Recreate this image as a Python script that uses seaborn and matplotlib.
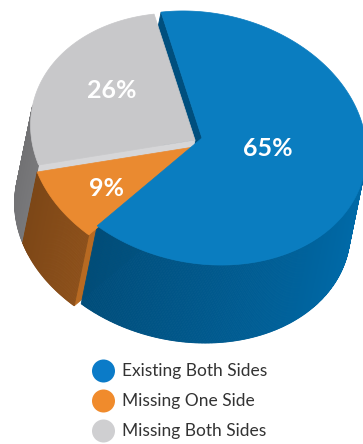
import numpy as np
import matplotlib
matplotlib.use("Agg")
import matplotlib.pyplot as plt
from matplotlib.patches import Polygon, Circle
import seaborn as sns

# ---- data -------------------------------------------------------------
labels = ["Existing Both Sides", "Missing One Side", "Missing Both Sides"]
shares = [65, 9, 26]
value_labels = ["65%", "9%", "26%"]

# ---- style ------------------------------------------------------------
sns.set_theme(style="white")
plt.rcParams["font.family"] = ["Lato", "DejaVu Sans"]

top_colors = sns.color_palette(["#0a7dc0", "#ea8a30", "#c8c8ca"])
side_colors = sns.color_palette(["#005c92", "#a9601f", "#a4a4a7"])
cut_colors = sns.color_palette(["#004f7e", "#b86a22", "#d6d6d8"])
legend_colors = sns.color_palette(["#0b7bc8", "#f08b2c", "#cfcfd1"])

W, H = 363, 444
fig = plt.figure(figsize=(W / 100, H / 100), dpi=100)
ax = fig.add_axes([0, 0, 1, 1])
ax.set_xlim(0, W)
ax.set_ylim(H, 0)
ax.axis("off")

# ---- 3-D pie geometry (pixel space, oblique projection) ----------------
center = np.array([195.0, 140.0])
ra, rb = 166.0, 125.0
tilt = np.deg2rad(12)
u = np.array([np.cos(tilt), np.sin(tilt)])
v = np.array([np.sin(tilt), -np.cos(tilt)])
depth = np.array([-16.0, 78.0])
start_angle = 113.5
offsets = [np.array([7.0, -2.0]), np.array([0.0, 0.0]), np.array([0.0, 0.0])]
sink = [0.0, 0.09, 0.0]          # how far each top sits below the full height
label_pos = [(268, 148), (106, 188), (112, 91)]


def rim(theta_deg, c):
    t = np.deg2rad(np.atleast_1d(theta_deg))
    return c + ra * np.cos(t)[:, None] * u + rb * np.sin(t)[:, None] * v


def normal(theta_deg):
    t = np.deg2rad(theta_deg)
    n = np.cos(t) / ra * u + np.sin(t) / rb * v
    return n / np.linalg.norm(n)


def shade(color, f):
    return tuple(np.clip(np.array(color) * f, 0, 1))


sweep = np.array(shares) / np.sum(shares) * 360.0
ends = start_angle - np.cumsum(sweep)
starts = ends + sweep

slices = []
for i in range(len(shares)):
    top_c = center + offsets[i] + sink[i] * depth
    wall = depth * (1 - sink[i])
    slices.append((starts[i], ends[i], top_c, wall))


def draw_cuts(i):
    th0, th1, c, wall = slices[i]
    for th, step in ((th0, -1.0), (th1, 1.0)):
        p = rim(th, c)[0]
        t = p - c
        m = rim(th + step, c)[0] - p
        nperp = np.array([t[1], -t[0]])
        if np.dot(nperp, m) > 0:
            nperp = -nperp
        if np.dot(nperp, depth) > 0:
            quad = np.array([c, p, p + wall, c + wall])
            ax.add_patch(Polygon(quad, closed=True, facecolor=cut_colors[i],
                                 edgecolor=cut_colors[i], lw=0.6))


def draw_wall(i):
    th0, th1, c, wall = slices[i]
    grid = np.linspace(th0, th1, int(abs(th0 - th1)) * 2 + 2)
    pts = rim(grid, c)
    for k in range(len(grid) - 1):
        n = normal((grid[k] + grid[k + 1]) / 2)
        if np.dot(n, depth) <= 0:
            continue
        col = shade(side_colors[i], 0.92 + 0.22 * n[0] + 0.05 * n[1])
        quad = np.array([pts[k], pts[k + 1], pts[k + 1] + wall, pts[k] + wall])
        ax.add_patch(Polygon(quad, closed=True, facecolor=col, edgecolor=col, lw=0.6))


def draw_top(i):
    th0, th1, c, wall = slices[i]
    grid = np.linspace(th0, th1, int(abs(th0 - th1)) * 2 + 2)
    poly = np.vstack([c, rim(grid, c)])
    ax.add_patch(Polygon(poly, closed=True, facecolor=top_colors[i],
                         edgecolor=top_colors[i], lw=0.5))


# back-to-front painting
draw_cuts(0)
for i in (2, 1):
    draw_cuts(i)
    draw_wall(i)
draw_wall(0)
for i in (2, 1, 0):
    draw_top(i)

for i, txt in enumerate(value_labels):
    ax.text(label_pos[i][0], label_pos[i][1], txt, color="white", fontsize=18,
            fontweight="bold", ha="center", va="center")

# ---- legend ------------------------------------------------------------
leg_x, leg_y0, leg_dy = 103.5, 371, 30
for i, lab in enumerate(labels):
    y = leg_y0 + i * leg_dy
    ax.add_patch(Circle((leg_x, y), 11.5, facecolor=legend_colors[i], edgecolor="none"))
    ax.text(leg_x + 19, y, lab, color="#333333", fontsize=12.5, fontweight="normal",
            ha="left", va="center")

fig.savefig("out.png", dpi=100)
